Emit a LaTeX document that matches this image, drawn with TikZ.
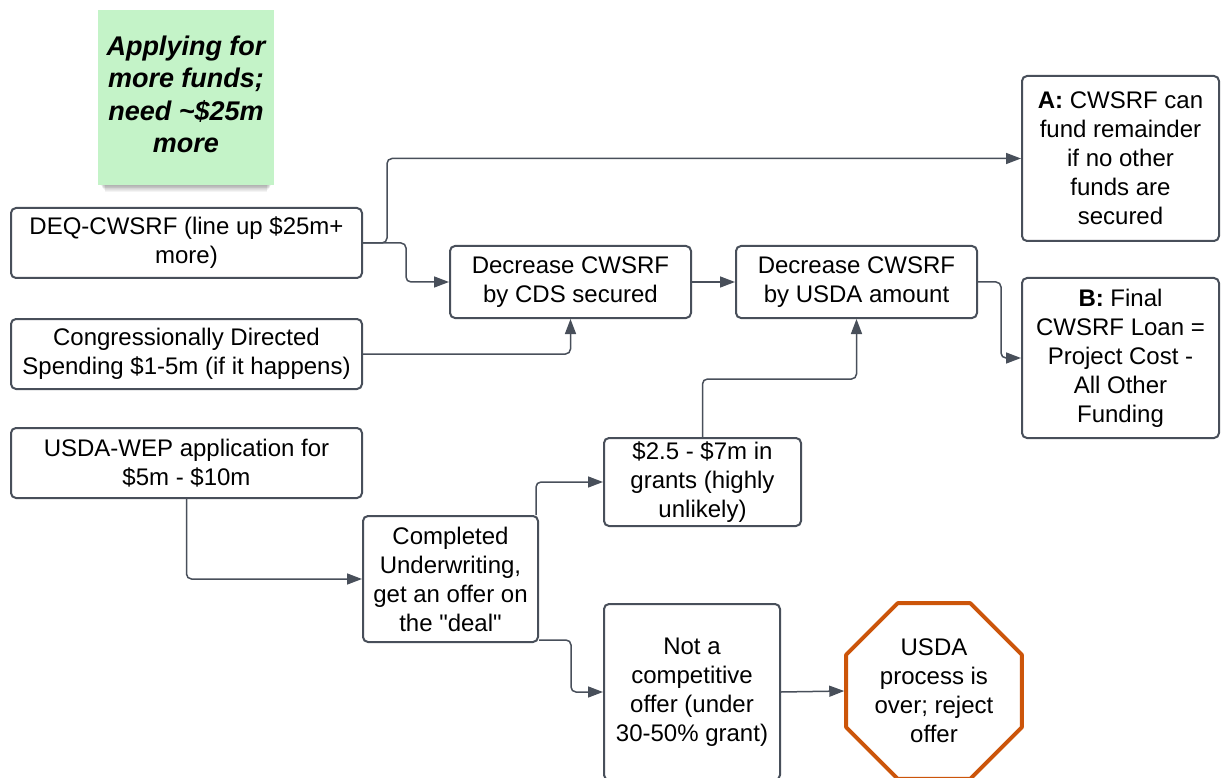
\documentclass[tikz,border=0pt]{standalone}
\usepackage{fontspec}
\setmainfont{Liberation Sans}[Ligatures=TeXOff]
\usetikzlibrary{arrows.meta,shapes.geometric}
\definecolor{linec}{RGB}{72,79,90}
\definecolor{stickyg}{RGB}{196,243,200}
\definecolor{stopc}{RGB}{204,85,10}
\tikzset{
  box/.style={draw=linec, line width=2pt, rounded corners=5pt, fill=white, inner sep=0pt, align=center,
    font=\fontsize{24}{29}\selectfont, text=black},
  conn/.style={draw=linec, line width=1.5pt, rounded corners=5pt, -{Triangle[length=15pt,width=11pt]}},
}
\begin{document}
\begin{tikzpicture}[x=1pt,y=-1pt]
\useasboundingbox (0,0) rectangle (1224,778);
% sticky note shadow
\foreach \i in {0,...,7}{
  \fill[black, opacity=0.045] (101+\i*0.6,176+\i*0.8) rectangle (271-\i*0.6,186+\i*0.8);
}
\node[fill=stickyg, minimum width=176pt, minimum height=175pt, inner sep=0pt, align=center,
  font=\fontsize{27}{32.5}\selectfont\bfseries\itshape] (note) at (186,97.5)
  {\raisebox{2pt}{\begin{tabular}{@{}c@{}}Applying for\\more funds;\\need \textasciitilde\$25m\\more\end{tabular}}};

\node[box, minimum width=351pt, minimum height=70pt] (deq) at (186.5,243) {DEQ-CWSRF (line up \$25m+\\more)};
\node[box, minimum width=351pt, minimum height=70pt] (cong) at (186.5,354) {Congressionally Directed\\Spending \$1-5m (if it happens)};
\node[box, minimum width=351pt, minimum height=70pt] (wep) at (186.5,463) {USDA-WEP application for\\\$5m - \$10m};
\node[box, minimum width=241pt, minimum height=72pt] (cds) at (570.5,282) {Decrease CWSRF\\by CDS secured};
\node[box, minimum width=241pt, minimum height=72pt] (usda) at (856.5,282) {Decrease CWSRF\\by USDA amount};
\node[box, minimum width=197pt, minimum height=165pt] (a) at (1120.5,158.5) {\textbf{A:} CWSRF can\\fund remainder\\if no other\\funds are\\secured};
\node[box, minimum width=197pt, minimum height=160pt] (b) at (1120.5,358) {\textbf{B:} Final\\CWSRF Loan =\\Project Cost -\\All Other\\Funding};
\node[box, minimum width=197pt, minimum height=88pt] (grant) at (702.5,482) {\$2.5 - \$7m in\\grants (highly\\unlikely)};
\node[box, minimum width=175pt, minimum height=126pt] (comp) at (450.5,579) {Completed\\Underwriting,\\get an offer on\\the "deal"};
\node[box, minimum width=176pt, minimum height=176pt] (nc) at (692,692) {Not a\\competitive\\offer (under\\30-50\% grant)};
\node[draw=stopc, line width=4pt, line join=round, fill=white, regular polygon, regular polygon sides=8, minimum size=190pt,
  inner sep=0pt, align=center, font=\fontsize{24}{29}\selectfont] (oct) at (934,691) {USDA\\process is\\over; reject\\offer};

\draw[conn] (deq.east) -- ++(24,0) |- (a.west);
\draw[conn] (deq.east) -- ++(43,0) |- (cds.west);
\draw[conn] (cds.east) -- (usda.west);
\draw[conn] (cong.east) -| (cds.south);
\draw[conn] (usda.east) -- ++(23,0) |- (b.west);
\draw[conn] (grant.north) -- ++(0,-58) -| (usda.south);
\draw[conn] (wep.south) |- (comp.west);
\draw[conn] ([xshift=-3pt]comp.north east) |- (grant.west);
\draw[conn] ([yshift=3pt]comp.south east) -- ++(32,0) |- (nc.west);
\draw[conn] (nc.east) -- (oct.west);
\end{tikzpicture}
\end{document}
